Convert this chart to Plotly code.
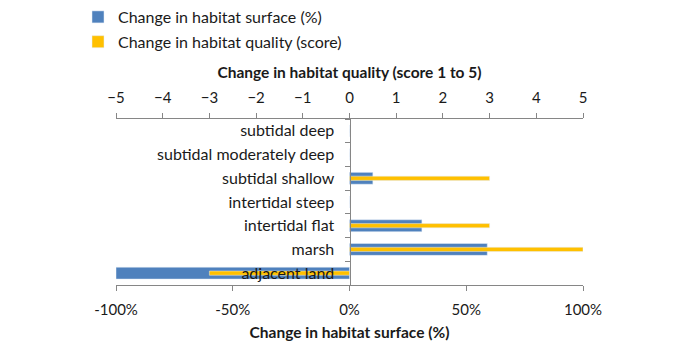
import plotly.graph_objects as go

categories = ["subtidal deep", "subtidal moderately deep", "subtidal shallow",
              "intertidal steep", "intertidal flat", "marsh", "adjacent land"]
surface_change = [0.0, 0.0, 0.10, 0.0, 0.31, 0.59, -1.00]
quality_change = [0, 0, 3, 0, 3, 5, -3]
surface_ticks = [-1, -0.5, 0, 0.5, 1]
surface_ticklabels = ["-100%", "-50%", "0%", "50%", "100%"]
quality_ticks = [-5, -4, -3, -2, -1, 0, 1, 2, 3, 4, 5]

FONT = "Lato"
AXC = "#868686"
TXT = "#1a1a1a"

fig = go.Figure()
fig.add_trace(go.Bar(
    y=categories, x=surface_change, orientation="h",
    name="Change in habitat surface (%)", marker_color="#4F81BD",
    width=0.5, xaxis="x", yaxis="y", legendgroup="a"))
fig.add_trace(go.Bar(
    y=categories, x=quality_change, orientation="h",
    name="Change in habitat quality (score)", marker_color="#FFC000",
    width=0.18, xaxis="x2", yaxis="y", legendgroup="b"))

# page body has an 8px default margin, so the figure is 8px smaller and offset
fig.update_layout(
    width=690, height=348,
    margin=dict(l=108, r=115, t=111, b=71, autoexpand=False),
    paper_bgcolor="white", plot_bgcolor="white",
    font=dict(family=FONT, size=14, color=TXT),
    barmode="overlay",
    showlegend=True,
    legend=dict(x=(70 - 108) / 467, y=1 + (111 + 8) / 166, xref="paper", yref="paper",
                xanchor="left", yanchor="top",
                font=dict(size=16, color=TXT), tracegroupgap=1,
                itemwidth=30, bgcolor="rgba(0,0,0,0)"),
    xaxis=dict(range=[-1, 1], tickvals=surface_ticks, ticktext=surface_ticklabels,
               showgrid=False, zeroline=False, showline=True, linecolor=AXC,
               ticks="outside", ticklen=5, tickcolor=AXC, side="bottom",
               automargin=False, ticklabelstandoff=6, tickfont=dict(size=15),
               title=dict(text="<b>Change in habitat surface (%)</b>", standoff=10,
                          font=dict(size=15.5, color=TXT))),
    xaxis2=dict(range=[-5, 5], tickvals=quality_ticks, overlaying="x", side="top",
                showgrid=False, zeroline=False, showline=True, linecolor=AXC,
                ticks="outside", ticklen=5, tickcolor=AXC, anchor="y",
                automargin=False, ticklabelstandoff=4, tickfont=dict(size=15),
                title=dict(text="<b>Change in habitat quality (score 1 to 5)</b>", standoff=5,
                           font=dict(size=15.5, color=TXT))),
    yaxis=dict(categoryorder="array", categoryarray=categories, autorange="reversed",
               anchor="free", position=0.5, showline=True, linecolor=AXC,
               ticks="outside", ticklen=5, tickcolor=AXC, tickson="boundaries",
               showgrid=False, zeroline=False, ticklabelstandoff=12, automargin=False,
               tickfont=dict(size=16, color=TXT)),
)

fig.write_html("out.html")
